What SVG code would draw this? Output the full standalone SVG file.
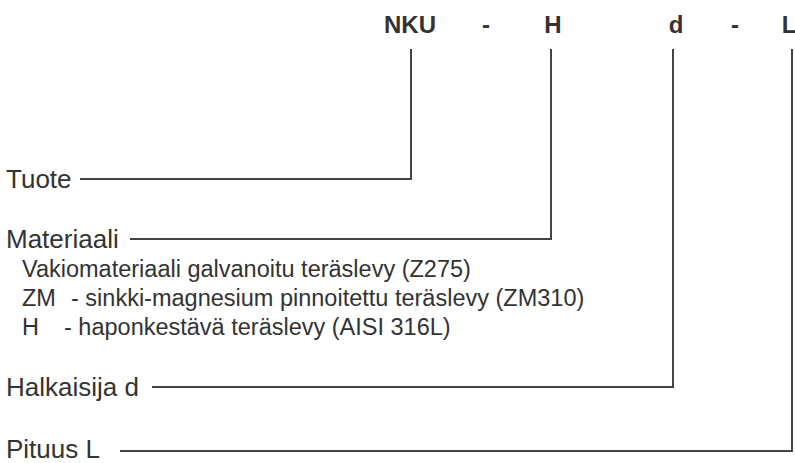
<svg xmlns="http://www.w3.org/2000/svg" width="795" height="463" viewBox="0 0 795 463">
<style>
.code{font-family:"Liberation Sans",Arial,sans-serif;font-weight:bold;font-size:24px;fill:#333;text-anchor:middle}
.lbl{font-family:"Liberation Sans",Arial,sans-serif;font-size:26px;fill:#333}
.sub{font-family:"Liberation Sans",Arial,sans-serif;font-size:23.5px;fill:#333}
.con{fill:none;stroke:#444;stroke-width:2}
</style>
<rect width="795" height="463" fill="#fff"/>
<g id="code">
<text class="code" x="410" y="33">NKU</text>
<text class="code" x="486" y="33">-</text>
<text class="code" x="553" y="33">H</text>
<text class="code" x="676" y="33">d</text>
<text class="code" x="735" y="33">-</text>
<text class="code" x="789" y="33">L</text>
</g>
<g id="tuote"><text class="lbl" x="6" y="188">Tuote</text></g>
<g id="materiaali">
<text class="lbl" x="6" y="248">Materiaali</text>
<text class="sub" x="22" y="277">Vakiomateriaali galvanoitu teräslevy (Z275)</text>
<text class="sub" x="22" y="306">ZM</text><text class="sub" x="71" y="306">- sinkki-magnesium pinnoitettu teräslevy (ZM310)</text>
<text class="sub" x="22" y="335">H</text><text class="sub" x="64" y="335">- haponkestävä teräslevy (AISI 316L)</text>
</g>
<g id="halkaisija"><text class="lbl" x="6" y="396">Halkaisija d</text></g>
<g id="pituus"><text class="lbl" x="6" y="458">Pituus L</text></g>
<g id="connectors">
<path class="con" d="M80 179H411V49"/>
<path class="con" d="M130 239H551V49"/>
<path class="con" d="M152 387H673V49"/>
<path class="con" d="M120 451H792V49"/>
</g>
</svg>
